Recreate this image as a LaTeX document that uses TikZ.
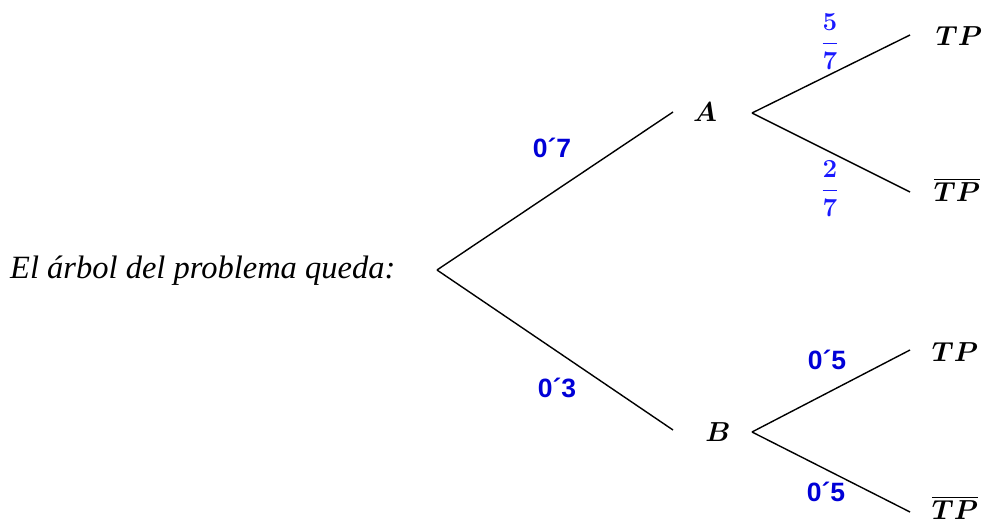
\RequirePackage{fix-cm}
\documentclass[tikz,border=0pt]{standalone}
\usepackage{amsmath}
\usepackage{bm}
\usepackage{fontspec}
\setmainfont{Liberation Serif}
\newfontfamily\labfont{Liberation Sans}
\definecolor{lblue}{RGB}{0,0,215}
\definecolor{fblue}{RGB}{25,25,255}
\tikzset{
  branch/.style={line width=1.4pt, black},
  ev/.style={font=\fontsize{27.5}{33}\selectfont, inner sep=1pt},
  prob/.style={font=\fontsize{26.5}{31}\selectfont\labfont\bfseries, text=lblue},
  frac/.style={font=\fontsize{26}{31}\selectfont, text=fblue},
}
\begin{document}
\begin{tikzpicture}[x=1pt,y=-1pt]
\useasboundingbox (0,0) rectangle (983,524);
\node[font=\fontsize{32.5}{38}\selectfont\itshape, anchor=west, inner sep=0pt] (txt) at (10,271) {El árbol del problema queda:};
\coordinate (root) at (437,270);
\node[ev] (A) at (705,112) {$\bm{A}$};
\node[ev] (B) at (718,432) {$\bm{B}$};
\coordinate (Ain) at (673,112);
\coordinate (Aout) at (752,113);
\coordinate (Bin) at (673,430);
\coordinate (Bout) at (752,432);
\node[ev] (tp1) at (959,36) {$\bm{TP}$};
\node[ev] (tp2) at (957,190) {$\overline{\bm{TP}}$};
\node[ev] (tp3) at (955,352) {$\bm{TP}$};
\node[ev] (tp4) at (955,508) {$\overline{\bm{TP}}$};
\coordinate (e1) at (910,35);
\coordinate (e2) at (910,192);
\coordinate (e3) at (910,350);
\coordinate (e4) at (910,512);
\draw[branch] (root) -- (Ain);
\draw[branch] (root) -- (Bin);
\draw[branch] (Aout) -- (e1);
\draw[branch] (Aout) -- (e2);
\draw[branch] (Bout) -- (e3);
\draw[branch] (Bout) -- (e4);
\node[prob] (p1) at (552,148) {0´7};
\node[prob] (p2) at (557,388) {0´3};
\node[frac] (p3) at (830,42) {$\displaystyle\bm{\frac{5}{7}}$};
\node[frac] (p4) at (830,189) {$\displaystyle\bm{\frac{2}{7}}$};
\node[prob] (p5) at (827,360) {0´5};
\node[prob] (p6) at (826,492) {0´5};
\end{tikzpicture}
\end{document}
